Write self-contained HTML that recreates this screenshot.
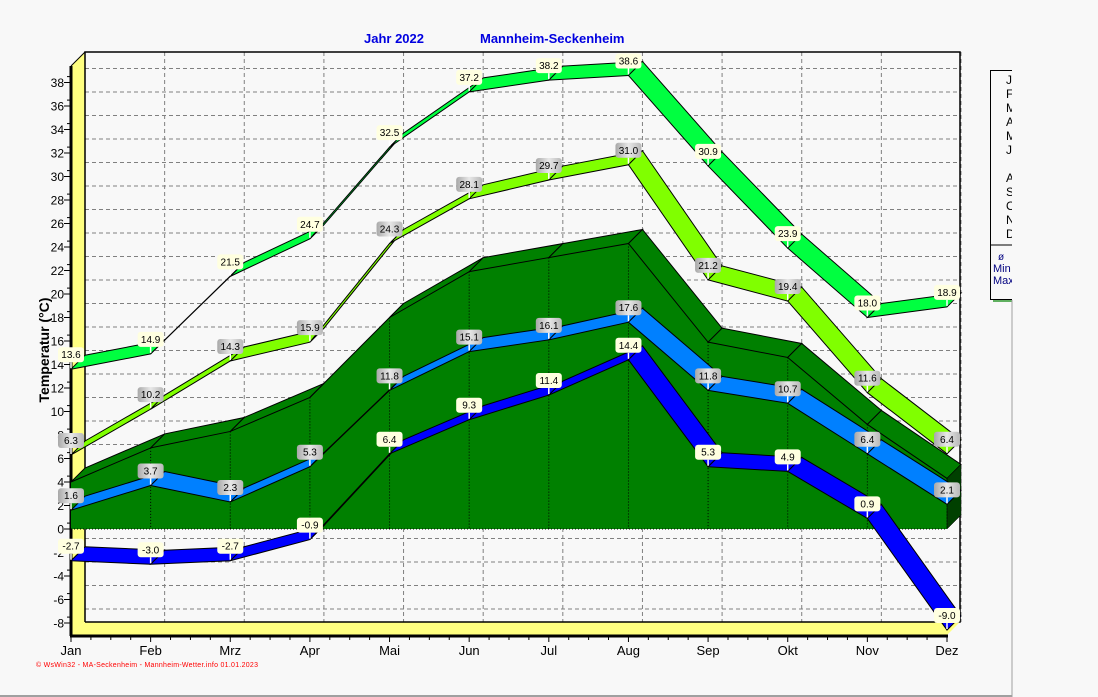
<!DOCTYPE html>
<html><head><meta charset="utf-8"><style>
body{margin:0;background:#f8f8f8;}
svg{display:block;font-family:"Liberation Sans",Arial,sans-serif;}
</style></head><body>
<svg id="s" width="1098" height="697" xmlns="http://www.w3.org/2000/svg"></svg>
<script>
const s=document.getElementById('s');
let h='';
const X=i=>71+79.636*i, Y=v=>529-11.75*v, D=14;
const months=['Jan','Feb','Mrz','Apr','Mai','Jun','Jul','Aug','Sep','Okt','Nov','Dez'];
h+='<rect width="1098" height="697" fill="#f8f8f8"/>';
for(let v=-8;v<=38;v+=2){const y=Y(v)-D;h+=`<line x1="85" y1="${y}" x2="960" y2="${y}" stroke="#808080" stroke-dasharray="4,3"/>`;
 h+=`<line x1="74" y1="${y+11}" x2="79" y2="${y+6}" stroke="#808080"/>`;}
for(let i=1;i<12;i++){const x=X(i)+D;h+=`<line x1="${x}" y1="52" x2="${x}" y2="622" stroke="#808080" stroke-dasharray="4,3"/>`;}
h+=`<polygon points="71,66 85,52 85,622 71,635" fill="#ffff80"/>`;
h+=`<polygon points="71,635 85,622 960,622 947,635" fill="#ffff80"/>`;
h+=`<polyline points="85,622 85,52 960,52 960,622 85,622" fill="none" stroke="#000" stroke-width="1.5"/>`;
h+=`<line x1="71" y1="66" x2="85" y2="52" stroke="#000"/>`;
h+=`<line x1="71" y1="66" x2="71" y2="636" stroke="#000" stroke-width="3"/>`;
h+=`<line x1="70" y1="636" x2="948" y2="636" stroke="#000" stroke-width="3"/>`;
for(let v=-8;v<=38;v+=2){const y=Y(v);h+=`<line x1="64" y1="${y}" x2="70" y2="${y}" stroke="#000"/><text x="64" y="${y+4.5}" font-size="12" text-anchor="end">${v}</text>`;
 h+=`<line x1="67" y1="${y-5.9}" x2="70" y2="${y-5.9}" stroke="#000"/>`;}
for(let i=0;i<12;i++){const x=X(i);h+=`<line x1="${x}" y1="636" x2="${x}" y2="642" stroke="#000"/><text x="${x}" y="655" font-size="13" text-anchor="middle">${months[i]}</text>`;
 for(let k=1;k<4;k++)if(i<11)h+=`<line x1="${x+k*19.9}" y1="636" x2="${x+k*19.9}" y2="640" stroke="#000"/>`;}
const ga=[4.0,6.9,8.3,11.2,18.0,21.9,23.1,24.3,15.9,14.6,8.9,4.3];
let fp=ga.map((v,i)=>`${X(i)},${Y(v)}`).join(' ');
h+=`<polygon points="${fp} 947,529 71,529" fill="#008000"/>`;
for(let i=0;i<11;i++){const a=[X(i),Y(ga[i])],b=[X(i+1),Y(ga[i+1])];
 h+=`<polygon points="${a} ${b} ${b[0]+D},${b[1]-D} ${a[0]+D},${a[1]-D}" fill="#008000" stroke="#000" stroke-width="1"/>`;}
h+=`<polygon points="947,${Y(4.3)} 961,${Y(4.3)-D} 961,515 947,529" fill="#004000" stroke="#000" stroke-width="0.5"/>`;
for(let i=1;i<12;i++)h+=`<line x1="${X(i)}" y1="${Y(ga[i])}" x2="${X(i)}" y2="529" stroke="#000" stroke-dasharray="1,2"/>`;
h+=`<line x1="71" y1="529" x2="947" y2="529" stroke="#000" stroke-dasharray="1,2"/>`;
function ribbon(d,col){for(let i=0;i<11;i++){const a=[X(i),Y(d[i])],b=[X(i+1),Y(d[i+1])];
 h+=`<polygon points="${a} ${b} ${b[0]+D},${b[1]-D} ${a[0]+D},${a[1]-D}" fill="${col}" stroke="#000" stroke-width="1"/>`;}}
const mean=[1.6,3.7,2.3,5.3,11.8,15.1,16.1,17.6,11.8,10.7,6.4,2.1];
const mn=[-2.7,-3.0,-2.7,-0.9,6.4,9.3,11.4,14.4,5.3,4.9,0.9,-8.6];
const mxa=[6.3,10.2,14.3,15.9,24.3,28.1,29.7,31.0,21.2,19.4,11.6,6.4];
const mx=[13.6,14.9,21.5,24.7,32.5,37.2,38.2,38.6,30.9,23.9,18.0,18.9];
const mnl=['-2.7','-3.0','-2.7','-0.9','6.4','9.3','11.4','14.4','5.3','4.9','0.9','-9.0'];
ribbon(mean,'#0080ff');ribbon(mn,'#0000ff');ribbon(mxa,'#80ff00');ribbon(mx,'#00ff40');
h+='<defs><linearGradient id="g" x1="0" x2="1"><stop offset="0" stop-color="#a8a8a8"/><stop offset="0.5" stop-color="#e8e8e8"/><stop offset="1" stop-color="#b8b8b8"/></linearGradient></defs>';
function labels(d,t,fill){for(let i=0;i<12;i++){const x=X(i),y=Y(d[i]);const s=t?t[i]:d[i].toFixed(1);
 h+=`<line x1="${x}" y1="${y-1}" x2="${x}" y2="${y-7}" stroke="#fff" stroke-width="1.5"/><rect x="${x-13}" y="${y-22}" width="26" height="15" rx="3" fill="${fill}"/><text x="${x}" y="${y-11}" font-size="10" text-anchor="middle">${s}</text>`;}}
labels(mean,null,'url(#g)');labels(mn,mnl,'#ffffe0');labels(mxa,null,'url(#g)');labels(mx,null,'#ffffe0');
h+=`<text x="364" y="43" font-size="13" font-weight="bold" fill="#0000e0">Jahr  2022</text><text x="480" y="43" font-size="13" font-weight="bold" fill="#0000e0">Mannheim-Seckenheim</text>`;
h+=`<text transform="translate(49,350) rotate(-90)" font-size="14" font-weight="bold" text-anchor="middle">Temperatur  (°C)</text>`;
h+=`<text x="36" y="667" font-size="7" fill="#ff0000" textLength="222">© WsWin32 - MA-Seckenheim - Mannheim-Wetter.info  01.01.2023</text>`;
h+=`<rect x="993" y="299" width="20" height="3" fill="#60b060"/><rect x="990.5" y="70.5" width="30" height="229" fill="#f8f8f8" stroke="#000"/><line x1="990" y1="245" x2="1012" y2="245" stroke="#000"/>`;
const lg=['J','F','M','A','M','J','','A','S','O','N','D'];
lg.forEach((c,i)=>{if(c)h+=`<text x="1006" y="${84+i*14}" font-size="12">${c}</text>`;});
h+=`<text x="998" y="260" font-size="10" fill="#000080">ø</text><text x="993" y="272" font-size="11" fill="#000080">Min</text><text x="993" y="284" font-size="11" fill="#000080">Max</text>`;
h+=`<rect x="1012" y="0" width="86" height="697" fill="#f8f8f8"/>`;
h+=`<line x1="1012" y1="300" x2="1012" y2="697" stroke="#a0a0a0"/><line x1="0" y1="696" x2="1012" y2="696" stroke="#a0a0a0" stroke-width="2"/>`;
s.innerHTML=h;
</script>
</body></html>
